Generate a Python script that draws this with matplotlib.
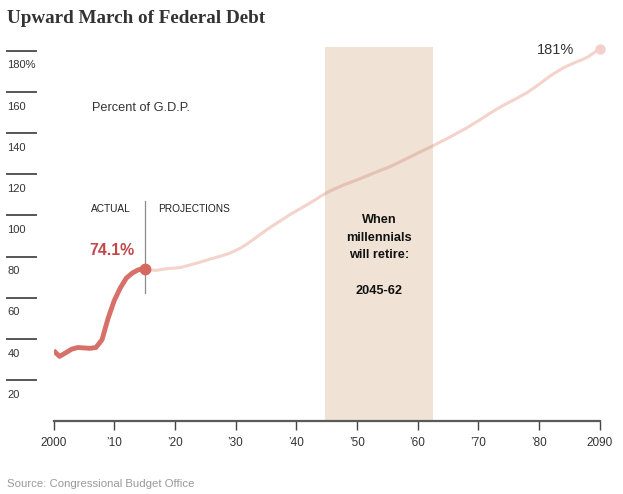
import matplotlib
matplotlib.use("Agg")
import matplotlib.pyplot as plt
from matplotlib.lines import Line2D
from matplotlib.transforms import blended_transform_factory

# ---------------- data ----------------
actual_years = list(range(2000, 2016))
actual_values = [34.3, 31.5, 33.2, 35.0, 35.8, 35.6, 35.4, 35.8, 39.6, 50.0, 58.5,
                 64.7, 69.5, 72.0, 73.6, 74.1]

proj_years = list(range(2015, 2091))
proj_values = [74.1, 73.4, 73.3, 73.8, 74.2, 74.4, 74.7, 75.5, 76.3, 77.1,
               78.0, 78.9, 79.7, 80.6, 81.6, 82.9, 84.4, 86.3, 88.4, 90.6,
               92.7, 94.7, 96.6, 98.5, 100.4, 102.1, 103.8, 105.5, 107.3, 109.2,
               110.9, 112.4, 113.7, 115.0, 116.1, 117.2, 118.4, 119.6, 120.8, 122.0,
               123.1, 124.4, 125.8, 127.3, 128.7, 130.2, 131.6, 133.0, 134.5, 136.0,
               137.5, 139.1, 140.7, 142.3, 144.1, 145.9, 147.8, 149.7, 151.5, 153.2,
               154.8, 156.3, 157.9, 159.5, 161.5, 163.6, 165.8, 168.0, 169.8, 171.6,
               173.0, 174.3, 175.5, 176.8, 178.8, 181.0]

yticks = [20, 40, 60, 80, 100, 120, 140, 160, 180]
ytick_labels = ["20", "40", "60", "80", "100", "120", "140", "160", "180%"]
xticks = [2000, 2010, 2020, 2030, 2040, 2050, 2060, 2070, 2080, 2090]
xtick_labels = ["2000", "\u201910", "\u201920", "\u201930", "\u201940", "\u201950",
                "\u201960", "\u201970", "\u201980", "2090"]
band_start, band_end = 2044.8, 2062.6
band_lines = ["When", "millennials", "will retire:", "", "2045-62"]
split_year = 2015

# ---------------- figure ----------------
W, H = 623, 494
fig = plt.figure(figsize=(W / 100, H / 100), dpi=100)
fig.patch.set_facecolor("white")

def fx(px):
    return px / W

def fy(py):
    return 1 - py / H

left_px, right_px = 53.5, 599.5
top_px, bottom_px = 47.3, 421.2
ax = fig.add_axes([fx(left_px), fy(bottom_px), fx(right_px - left_px), (bottom_px - top_px) / H])
ax.set_xlim(2000, 2090)
ax.set_ylim(0, 181.65)
ax.set_facecolor("none")
for s in ["top", "right", "left"]:
    ax.spines[s].set_visible(False)
ax.spines["bottom"].set_color("#5a5a5a")
ax.spines["bottom"].set_linewidth(1.6)
ax.set_yticks([])
ax.set_xticks(xticks)
ax.set_xticklabels(xtick_labels, fontfamily="Liberation Sans", fontsize=8.5, color="#333333")
ax.tick_params(axis="x", direction="out", length=6.5, width=1.0, color="#444444", pad=5)

SANS = "Liberation Sans"

# band
span = ax.axvspan(band_start, band_end, ymin=0, ymax=1, color="#f0e3d6", lw=0, zorder=0)

# y "tick" dashes and labels at the far left
bt = blended_transform_factory(fig.transFigure, ax.transData)
for v, lab in zip(yticks, ytick_labels):
    ax.add_line(Line2D([fx(7.3), fx(36)], [v, v], transform=bt, color="#555555",
                       lw=1.4, clip_on=False))
    ax.annotate(lab, xy=(fx(7.3), v), xycoords=bt, xytext=(0, -12.7),
                textcoords="offset points", ha="left", va="baseline",
                fontfamily=SANS, fontsize=8, color="#333333", annotation_clip=False)

# projection line (darker where it crosses the band)
ax.plot(proj_years, proj_values, color="#f4d3cc", lw=2.2, solid_capstyle="round",
        zorder=3, clip_on=False)
inband, = ax.plot(proj_years, proj_values, color="#e4c3b5", lw=2.2, zorder=3.5)
inband.set_clip_path(span)
ax.plot([proj_years[-1]], [proj_values[-1]], "o", color="#f3d0c9", ms=7.5, mew=0,
        zorder=4, clip_on=False)

# actual line
ax.plot(actual_years, actual_values, color="#d77068", lw=3.5, solid_joinstyle="round",
        solid_capstyle="butt", zorder=5)
ax.plot([actual_years[-1]], [actual_values[-1]], "o", color="#d6675f", ms=8.5, mew=0, zorder=6)

# split line
ax.plot([split_year, split_year], [62.3, 107.2], color="#8c8c8c", lw=0.9, zorder=2)
ax.annotate("ACTUAL", xy=(split_year, 107.2), xytext=(-9.8, -8), textcoords="offset points",
            ha="right", va="baseline", fontfamily=SANS, fontsize=7.3, color="#222222")
ax.annotate("PROJECTIONS", xy=(split_year, 107.2), xytext=(9.8, -8), textcoords="offset points",
            ha="left", va="baseline", fontfamily=SANS, fontsize=7.3, color="#222222")

# value labels
ax.annotate(f"{actual_values[-1]:.1f}%", xy=(actual_years[-1], actual_values[-1]),
            xytext=(-7.2, 9.6), textcoords="offset points", ha="right", va="baseline",
            fontfamily=SANS, fontsize=11.4, fontweight="bold", color="#c1474c")
ax.annotate(f"{proj_values[-1]:.0f}%", xy=(proj_years[-1], proj_values[-1]),
            xytext=(-18, -3.6), textcoords="offset points", ha="right", va="baseline",
            fontfamily=SANS, fontsize=10.5, color="#333333", annotation_clip=False)

# band text (one text per line, baselines placed in pixels)
band_mid = (band_start + band_end) / 2
bx = blended_transform_factory(ax.transData, fig.transFigure)
baseline0, step = 222.7, 17.9
for i, line in enumerate(band_lines):
    if line:
        ax.text(band_mid, fy(baseline0 + i * step), line, transform=bx, ha="center",
                va="baseline", fontfamily=SANS, fontsize=9.2, fontweight="bold",
                color="#111111")

# other texts
fig.text(fx(91.7), fy(111), "Percent of G.D.P.", ha="left", va="baseline",
         fontfamily=SANS, fontsize=9.2, color="#333333")
fig.text(fx(7), fy(22.7), "Upward March of Federal Debt", ha="left", va="baseline",
         fontfamily="Liberation Serif", fontsize=13.8, fontweight="bold", color="#333333")
fig.text(fx(7), fy(487), "Source: Congressional Budget Office", ha="left", va="baseline",
         fontfamily=SANS, fontsize=8.2, color="#999999")

fig.savefig("out.png", dpi=100, facecolor="white")
